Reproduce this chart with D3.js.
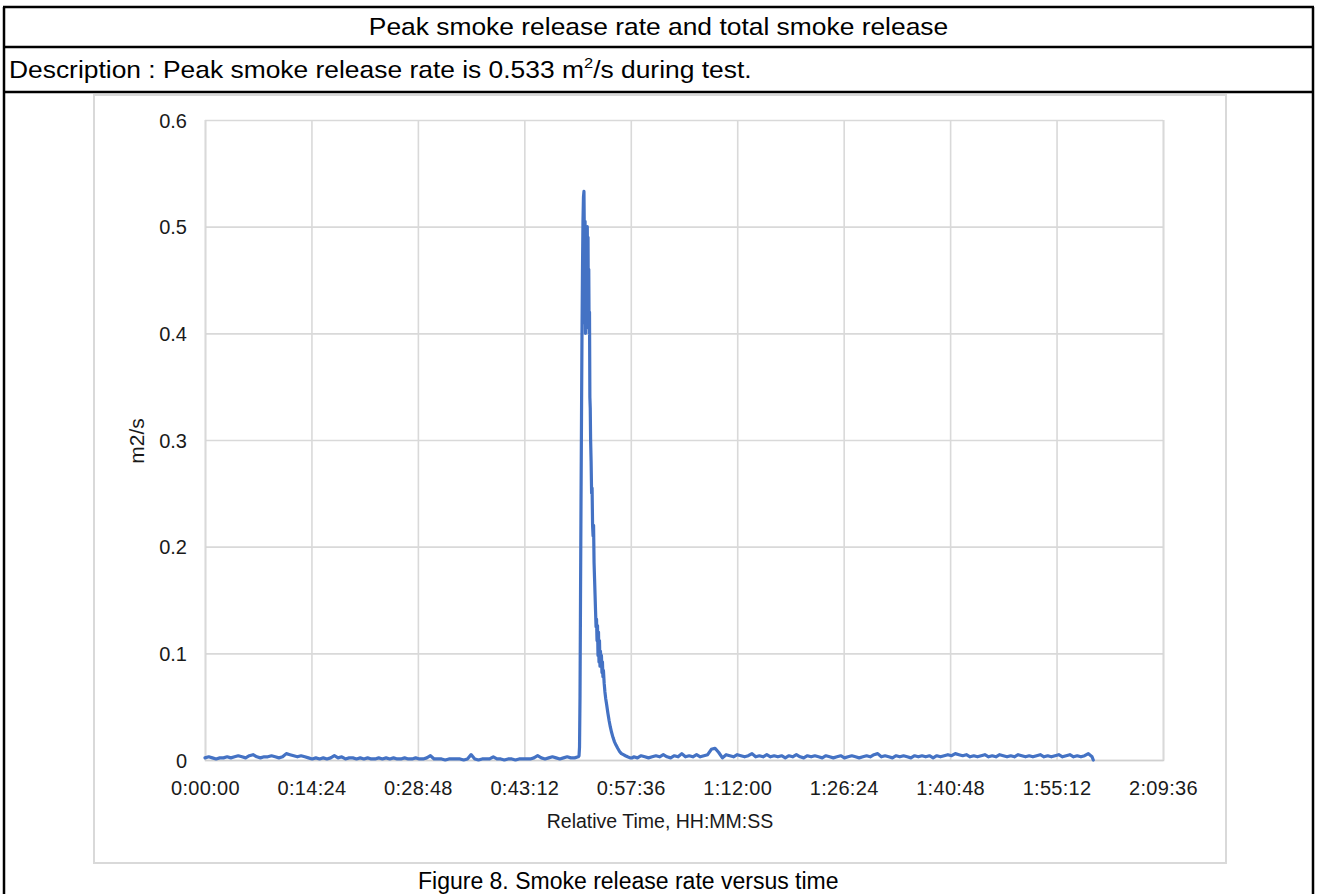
<!DOCTYPE html>
<html>
<head>
<meta charset="utf-8">
<script src="https://cdn.jsdelivr.net/npm/d3@7"></script>
<style>
  html, body { margin: 0; padding: 0; background: #fff; }
  svg { display: block; font-family: "Liberation Sans", Arial, Helvetica, sans-serif; }
</style>
</head>
<body>
<svg id="chart" width="1317" height="894"></svg>
<script>
// ---------------- DATA ----------------
const titleText = "Peak smoke release rate and total smoke release";
const descriptionParts = ["Description : Peak smoke release rate is 0.533 m", "2", "/s during test."];
const captionText = "Figure 8. Smoke release rate versus time";
const xAxisTitle = "Relative Time, HH:MM:SS";
const yAxisTitle = "m2/s";

// x ticks in seconds (every 0:14:24)
const xTickSeconds = [0, 864, 1728, 2592, 3456, 4320, 5184, 6048, 6912, 7776];
const yTickValues = [0, 0.1, 0.2, 0.3, 0.4, 0.5, 0.6];

// Baseline before ignition: one reading every 30 s starting at 0 s
const preStep = 30;
const preValues = [
  0.002,0.003,0.002,0.001,0.002,0.002,0.003,0.002,0.003,0.004,0.003,0.002,0.004,0.005,0.003,0.002,0.003,0.003,0.004,0.003,0.002,0.003,0.006,0.005,0.004,0.003,0.004,0.003,0.002,
  0.001,0.002,0.001,0.002,0.001,0.002,0.004,0.002,0.003,0.001,0.002,0.002,0.001,0.002,0.001,0.002,0.001,0.001,0.002,0.001,0.002,0.001,0.002,0.001,0.001,0.002,0.001,0.001,0.002,
  0.001,0.001,0.002,0.004,0.001,0.001,0.001,0.000,0.001,0.001,0.001,0.001,0.000,0.001,0.005,0.001,0.000,0.001,0.001,0.001,0.003,0.001,0.001,0.000,0.001,0.001,0.000,0.001,0.001,
  0.001,0.001,0.002,0.004,0.002,0.001,0.002,0.003,0.002,0.001,0.002,0.003,0.002,0.002,0.003
];

// Peak region: explicit times (s) and rates (m2/s)
const peakTimes = [3036,3040,3044,3048,3052,3056,3060,3064,3068,3072,3076,3079,3082,3085,3088,3091,3094,3097,3100,3103,3106,3109,3112,3115,3118,3121,3124,3127,3130,3134,3138,3142,3146,3150,3154,3158,3162,3166,3170,3174,3178,3182,3186,3190,3194,3198,3202,3206,3210,3214,3218,3222,3226,3230,3234,3240,3246,3252,3260,3270,3280,3290,3300,3312,3324,3336,3350,3365,3380,3396,3412,3430,3450,3470];
const peakValues = [0.004,0.012,0.060,0.150,0.240,0.320,0.400,0.460,0.505,0.528,0.533,0.495,0.410,0.505,0.400,0.480,0.405,0.495,0.420,0.500,0.440,0.490,0.410,0.460,0.400,0.420,0.340,0.330,0.300,0.280,0.250,0.255,0.220,0.210,0.220,0.185,0.170,0.155,0.140,0.125,0.132,0.112,0.126,0.098,0.120,0.092,0.112,0.088,0.102,0.090,0.098,0.082,0.092,0.078,0.084,0.072,0.064,0.058,0.052,0.044,0.037,0.031,0.026,0.021,0.017,0.014,0.011,0.008,0.006,0.005,0.004,0.003,0.002,0.002];

// Baseline after the peak: one reading every 30 s starting at 3480 s
const postStart = 3480;
const postStep = 30;
const postValues = [
  0.003,0.002,0.004,0.003,0.002,0.003,0.004,0.003,0.005,0.003,0.002,0.004,0.003,0.006,0.003,0.004,0.003,0.005,0.003,0.004,
  0.005,0.010,0.011,0.007,0.002,0.005,0.004,0.003,0.005,0.004,0.003,0.004,0.006,0.003,0.004,0.003,0.005,0.003,0.004,0.003,
  0.004,0.002,0.004,0.003,0.005,0.003,0.002,0.004,0.003,0.004,0.003,0.002,0.004,0.003,0.002,0.003,0.004,0.002,0.003,0.004,
  0.003,0.002,0.003,0.004,0.003,0.005,0.006,0.003,0.004,0.003,0.002,0.004,0.003,0.004,0.003,0.002,0.004,0.003,0.004,0.003,
  0.004,0.002,0.004,0.003,0.004,0.005,0.004,0.006,0.005,0.004,0.005,0.003,0.004,0.003,0.004,0.005,0.003,0.004,0.003,0.005,
  0.004,0.003,0.004,0.003,0.005,0.004,0.003,0.004,0.003,0.004,0.005,0.003,0.004,0.003,0.004,0.005,0.003,0.004,0.005,0.003,
  0.004,0.003,0.004,0.006,0.003
];
const endTime = 7210, endValue = 0.000;

// ---------------- BUILD SERIES ----------------
const series = [];
preValues.forEach((v, i) => series.push({t: i * preStep, v}));
peakTimes.forEach((t, i) => series.push({t, v: peakValues[i]}));
postValues.forEach((v, i) => series.push({t: postStart + i * postStep, v}));
series.push({t: endTime, v: endValue});

// ---------------- LAYOUT ----------------
const svg = d3.select("#chart");
const W = 1317, H = 894;
const font = "\"Liberation Sans\", Arial, Helvetica, sans-serif";

// table borders
const tblL = 4, tblR = 1313, rowTop = 7, row1 = 47, row2 = 92;
const borderG = svg.append("g").attr("stroke", "#000").attr("stroke-width", 2.5);
borderG.append("line").attr("x1", tblL - 1).attr("x2", tblR + 1).attr("y1", rowTop).attr("y2", rowTop);
borderG.append("line").attr("x1", tblL - 1).attr("x2", tblR + 1).attr("y1", row1).attr("y2", row1);
borderG.append("line").attr("x1", tblL - 1).attr("x2", tblR + 1).attr("y1", row2).attr("y2", row2);
borderG.append("line").attr("x1", tblL).attr("x2", tblL).attr("y1", rowTop).attr("y2", H);
borderG.append("line").attr("x1", tblR).attr("x2", tblR).attr("y1", rowTop).attr("y2", H);

// title
svg.append("text")
  .attr("transform", `translate(${(tblL + tblR) / 2},35) scale(1.1,1)`)
  .attr("text-anchor", "middle")
  .attr("font-size", 24).attr("fill", "#000")
  .text(titleText);

// description
const desc = svg.append("text")
  .attr("transform", `translate(9,78) scale(1.1,1)`)
  .attr("font-size", 24).attr("fill", "#000");
desc.append("tspan").text(descriptionParts[0]);
desc.append("tspan").attr("font-size", 15).attr("dy", -10).text(descriptionParts[1]);
desc.append("tspan").attr("dy", 10).text(descriptionParts[2]);

// chart frame
svg.append("rect")
  .attr("x", 94).attr("y", 95).attr("width", 1132).attr("height", 768)
  .attr("fill", "#fff").attr("stroke", "#d9d9d9").attr("stroke-width", 2);

// plot area
const plot = {l: 205, r: 1163, t: 120, b: 760};
const x = d3.scaleLinear().domain([0, 7776]).range([plot.l, plot.r]);
const y = d3.scaleLinear().domain([0, 0.6]).range([plot.b, plot.t]);

function fmtTime(s) {
  const h = Math.floor(s / 3600), m = Math.floor((s % 3600) / 60), sec = Math.round(s % 60);
  return `${h}:${String(m).padStart(2, "0")}:${String(sec).padStart(2, "0")}`;
}

// gridlines via axes
const gy = svg.append("g").attr("transform", `translate(${plot.l},0)`)
  .call(d3.axisLeft(y).tickValues(yTickValues).tickSize(-(plot.r - plot.l)).tickFormat(d3.format(".1~f")));
gy.select(".domain").remove();
gy.selectAll(".tick line").attr("stroke", "#d9d9d9").attr("stroke-width", 1.6);
gy.selectAll(".tick text")
  .attr("x", -18).attr("dy", "0.35em")
  .attr("font-family", font).attr("font-size", 20).attr("fill", "#1a1a1a")
  .text(d => d === 0 ? "0" : d3.format(".1f")(d));

const gx = svg.append("g").attr("transform", `translate(0,${plot.b})`)
  .call(d3.axisBottom(x).tickValues(xTickSeconds).tickSize(-(plot.b - plot.t)).tickFormat(fmtTime));
gx.select(".domain").attr("stroke", "#d0d0d0").attr("stroke-width", 1.6);
gx.selectAll(".tick line").attr("stroke", "#d9d9d9").attr("stroke-width", 1.6);
gx.selectAll(".tick text")
  .attr("y", 28).attr("dy", "0.35em")
  .attr("font-family", font).attr("font-size", 20).attr("fill", "#1a1a1a")
  .attr("letter-spacing", 0.3);

// axis titles
svg.append("text")
  .attr("x", 660).attr("y", 828).attr("text-anchor", "middle")
  .attr("font-size", 19.5).attr("fill", "#1a1a1a").text(xAxisTitle);
svg.append("text")
  .attr("transform", `translate(144,441) rotate(-90)`)
  .attr("text-anchor", "middle")
  .attr("font-size", 21).attr("fill", "#1a1a1a").text(yAxisTitle);

// data line
const line = d3.line().x(d => x(d.t)).y(d => y(d.v));
svg.append("path")
  .datum(series)
  .attr("d", line)
  .attr("fill", "none")
  .attr("stroke", "#4472C4")
  .attr("stroke-width", 3.2)
  .attr("stroke-linejoin", "round")
  .attr("stroke-linecap", "round");

// caption
svg.append("text")
  .attr("x", 418).attr("y", 889)
  .attr("font-size", 23).attr("fill", "#000").text(captionText);
</script>
</body>
</html>
